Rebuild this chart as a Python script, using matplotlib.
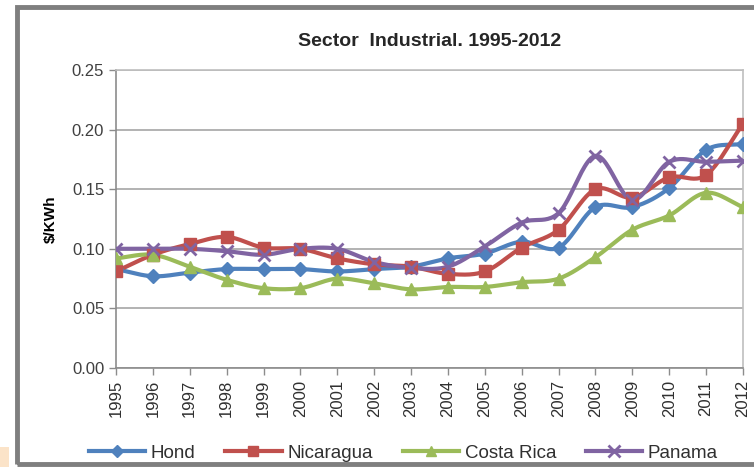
import matplotlib.pyplot as plt
import numpy as np
from matplotlib.patches import Rectangle
from matplotlib.lines import Line2D

years = list(range(1995, 2013))
hond = [0.083, 0.077, 0.080, 0.083, 0.083, 0.083, 0.081, 0.083, 0.085, 0.092,
        0.096, 0.106, 0.101, 0.135, 0.135, 0.151, 0.183, 0.188]
nicaragua = [0.081, 0.095, 0.104, 0.110, 0.101, 0.100, 0.092, 0.087, 0.085, 0.079,
             0.081, 0.101, 0.116, 0.150, 0.143, 0.160, 0.162, 0.205]
costa_rica = [0.092, 0.095, 0.085, 0.074, 0.067, 0.067, 0.075, 0.071, 0.066, 0.068,
              0.068, 0.072, 0.075, 0.093, 0.116, 0.128, 0.147, 0.135]
panama = [0.100, 0.100, 0.100, 0.098, 0.095, 0.100, 0.100, 0.089, 0.084, 0.085,
          0.102, 0.122, 0.130, 0.178, 0.141, 0.173, 0.173, 0.174]

series = [
    ('Hond', hond, '#4F81BD', 'D', 7),
    ('Nicaragua', nicaragua, '#C0504D', 's', 8),
    ('Costa Rica', costa_rica, '#9BBB59', '^', 8),
    ('Panama', panama, '#8064A2', 'x', 9),
]


def smooth(x, y, n=24):
    # Catmull-Rom curve through the points, like Excel's smoothed line
    x = np.asarray(x, float)
    y = np.asarray(y, float)
    px = np.concatenate([[2 * x[0] - x[1]], x, [2 * x[-1] - x[-2]]])
    py = np.concatenate([[2 * y[0] - y[1]], y, [2 * y[-1] - y[-2]]])
    t = np.linspace(0, 1, n, endpoint=False)
    xs, ys = [], []
    for i in range(1, len(px) - 2):
        for p, out in ((px, xs), (py, ys)):
            p0, p1, p2, p3 = p[i - 1], p[i], p[i + 1], p[i + 2]
            out.extend(0.5 * (2 * p1 + (-p0 + p2) * t
                              + (2 * p0 - 5 * p1 + 4 * p2 - p3) * t ** 2
                              + (-p0 + 3 * p1 - 3 * p2 + p3) * t ** 3))
    xs.append(x[-1])
    ys.append(y[-1])
    return np.array(xs), np.array(ys)


plt.rcParams['font.family'] = ['Liberation Sans', 'DejaVu Sans']

fig = plt.figure(figsize=(7.54, 4.67), dpi=100)
ax = fig.add_axes([0.1538, 0.212, 0.8316, 0.638])

# outer chart frame
fig.patches.append(Rectangle((17 / 754, 3 / 467), 1.0, 457 / 467, transform=fig.transFigure,
                             fill=False, edgecolor='#7f7f7f', linewidth=3.5))
fig.patches.append(Rectangle((0, 0), 9 / 754, 20 / 467, transform=fig.transFigure,
                             facecolor='#FBE3C8', edgecolor='none'))

x = np.arange(len(years))
handles = []
for name, vals, col, mk, ms in series:
    sx, sy = smooth(x, vals)
    ax.plot(sx, sy, color=col, lw=3, solid_capstyle='round', zorder=3)
    if mk == 'x':
        ax.plot(x, vals, ls='none', marker=mk, ms=ms, mew=2, color=col, zorder=4)
    else:
        ax.plot(x, vals, ls='none', marker=mk, ms=ms, color=col, mec=col, zorder=4)
    handles.append(Line2D([], [], color=col, lw=3, marker=mk, ms=ms - 1,
                          mew=2 if mk == 'x' else 1, mec=col))

ax.set_xlim(0, len(years) - 1)
ax.set_ylim(0, 0.25)
ax.set_yticks(np.arange(0, 0.26, 0.05))
ax.set_yticklabels([f'{v:.2f}' for v in np.arange(0, 0.26, 0.05)], fontsize=12, color='#404040')
ax.set_xticks(x)
ax.set_xticklabels([str(y) for y in years], rotation=90, fontsize=12, color='#303030')
ax.grid(axis='y', color='#a6a6a6', lw=1.2)
ax.set_axisbelow(True)
for s in ax.spines.values():
    s.set_color('#bfbfbf')
    s.set_linewidth(1.2)
ax.spines['left'].set_color('#8c8c8c')
ax.spines['bottom'].set_color('#8c8c8c')
ax.tick_params(axis='both', color='#8c8c8c', length=5, width=1)

ax.set_ylabel('$/KWh', fontsize=11, fontweight='bold', labelpad=10)
ax.set_title('Sector  Industrial. 1995-2012', fontsize=14, fontweight='bold',
             color='#262626', pad=17)

fig.legend(handles, [s[0] for s in series], loc='center', bbox_to_anchor=(0.535, 0.03),
           ncol=4, frameon=False, fontsize=13.5, handlelength=3, columnspacing=1.6,
           handletextpad=0.3, labelcolor='#303030')

plt.savefig('out.png', dpi=100)
